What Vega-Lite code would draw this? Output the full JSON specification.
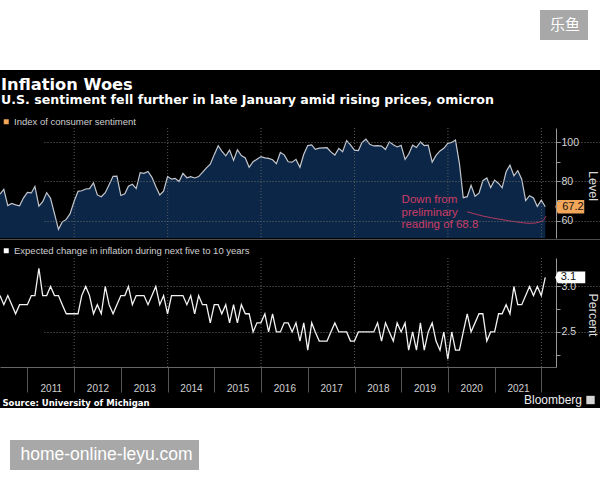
{
  "$schema": "https://vega.github.io/schema/vega-lite/v6.json",
  "width": 600,
  "height": 338,
  "autosize": {"type": "none"},
  "padding": {"top": 70, "bottom": 72, "left": 0, "right": 0},
  "background": "#ffffff",
  "view": {"fill": "#000000", "stroke": null},
  "title": {
    "text": "Inflation Woes",
    "subtitle": "U.S. sentiment fell further in late January amid rising prices, omicron",
    "anchor": "start",
    "frame": "group",
    "offset": -97,
    "dx": 1,
    "font": "DejaVu Sans",
    "fontSize": 16.3,
    "fontWeight": "bold",
    "color": "#ffffff",
    "subtitleFont": "DejaVu Sans",
    "subtitleFontSize": 12.6,
    "subtitleFontWeight": "bold",
    "subtitleColor": "#ffffff",
    "subtitlePadding": 1.5
  },
  "config": {
    "font": "Liberation Sans",
    "legend": {"orient": "none", "padding": 0, "labelLimit": 400, "symbolStrokeWidth": 0, "labelFont": "Liberation Sans"}
  },
  "datasets": {
    "monthly": [
      {"d": "2010-05-31", "s": 73.6, "e": 2.9}, {"d": "2010-06-30", "s": 76.0, "e": 2.8}, {"d": "2010-07-31", "s": 67.8, "e": 2.9}, {"d": "2010-08-31", "s": 68.9, "e": 2.8},
      {"d": "2010-09-30", "s": 68.2, "e": 2.7}, {"d": "2010-10-31", "s": 67.7, "e": 2.8}, {"d": "2010-11-30", "s": 71.6, "e": 2.8}, {"d": "2010-12-31", "s": 74.5, "e": 2.8},
      {"d": "2011-01-31", "s": 74.2, "e": 2.9}, {"d": "2011-02-28", "s": 77.5, "e": 2.9}, {"d": "2011-03-31", "s": 67.5, "e": 3.2}, {"d": "2011-04-30", "s": 69.8, "e": 2.9},
      {"d": "2011-05-31", "s": 74.3, "e": 2.9}, {"d": "2011-06-30", "s": 71.5, "e": 3.0}, {"d": "2011-07-31", "s": 63.7, "e": 2.9}, {"d": "2011-08-31", "s": 55.8, "e": 2.9},
      {"d": "2011-09-30", "s": 59.5, "e": 2.8}, {"d": "2011-10-31", "s": 60.8, "e": 2.7}, {"d": "2011-11-30", "s": 63.7, "e": 2.7}, {"d": "2011-12-31", "s": 69.9, "e": 2.7},
      {"d": "2012-01-31", "s": 75.0, "e": 2.7}, {"d": "2012-02-29", "s": 75.3, "e": 2.9}, {"d": "2012-03-31", "s": 76.2, "e": 3.0}, {"d": "2012-04-30", "s": 76.4, "e": 2.9},
      {"d": "2012-05-31", "s": 79.3, "e": 2.7}, {"d": "2012-06-30", "s": 73.2, "e": 2.8}, {"d": "2012-07-31", "s": 72.3, "e": 2.7}, {"d": "2012-08-31", "s": 74.3, "e": 3.0},
      {"d": "2012-09-30", "s": 78.3, "e": 2.8}, {"d": "2012-10-31", "s": 82.6, "e": 2.7}, {"d": "2012-11-30", "s": 82.7, "e": 2.8}, {"d": "2012-12-31", "s": 72.9, "e": 2.9},
      {"d": "2013-01-31", "s": 73.8, "e": 2.9}, {"d": "2013-02-28", "s": 77.6, "e": 3.0}, {"d": "2013-03-31", "s": 78.6, "e": 2.8}, {"d": "2013-04-30", "s": 76.4, "e": 2.9},
      {"d": "2013-05-31", "s": 84.5, "e": 2.9}, {"d": "2013-06-30", "s": 84.1, "e": 2.9}, {"d": "2013-07-31", "s": 85.1, "e": 2.8}, {"d": "2013-08-31", "s": 82.1, "e": 2.9},
      {"d": "2013-09-30", "s": 77.5, "e": 3.0}, {"d": "2013-10-31", "s": 73.2, "e": 2.8}, {"d": "2013-11-30", "s": 75.1, "e": 2.9}, {"d": "2013-12-31", "s": 82.5, "e": 2.7},
      {"d": "2014-01-31", "s": 81.2, "e": 2.9}, {"d": "2014-02-28", "s": 81.6, "e": 2.9}, {"d": "2014-03-31", "s": 80.0, "e": 2.9}, {"d": "2014-04-30", "s": 84.1, "e": 2.9},
      {"d": "2014-05-31", "s": 81.9, "e": 2.8}, {"d": "2014-06-30", "s": 82.5, "e": 2.9}, {"d": "2014-07-31", "s": 81.8, "e": 2.7}, {"d": "2014-08-31", "s": 82.5, "e": 2.9},
      {"d": "2014-09-30", "s": 84.6, "e": 2.8}, {"d": "2014-10-31", "s": 86.9, "e": 2.8}, {"d": "2014-11-30", "s": 88.8, "e": 2.6}, {"d": "2014-12-31", "s": 93.6, "e": 2.8},
      {"d": "2015-01-31", "s": 98.1, "e": 2.8}, {"d": "2015-02-28", "s": 95.4, "e": 2.7}, {"d": "2015-03-31", "s": 93.0, "e": 2.8}, {"d": "2015-04-30", "s": 95.9, "e": 2.6},
      {"d": "2015-05-31", "s": 90.7, "e": 2.8}, {"d": "2015-06-30", "s": 96.1, "e": 2.6}, {"d": "2015-07-31", "s": 93.1, "e": 2.8}, {"d": "2015-08-31", "s": 91.9, "e": 2.7},
      {"d": "2015-09-30", "s": 87.2, "e": 2.7}, {"d": "2015-10-31", "s": 90.0, "e": 2.5}, {"d": "2015-11-30", "s": 91.3, "e": 2.6}, {"d": "2015-12-31", "s": 92.6, "e": 2.6},
      {"d": "2016-01-31", "s": 92.0, "e": 2.7}, {"d": "2016-02-29", "s": 91.7, "e": 2.5}, {"d": "2016-03-31", "s": 91.0, "e": 2.7}, {"d": "2016-04-30", "s": 89.0, "e": 2.5},
      {"d": "2016-05-31", "s": 94.7, "e": 2.5}, {"d": "2016-06-30", "s": 93.5, "e": 2.6}, {"d": "2016-07-31", "s": 90.0, "e": 2.6}, {"d": "2016-08-31", "s": 89.8, "e": 2.5},
      {"d": "2016-09-30", "s": 91.2, "e": 2.6}, {"d": "2016-10-31", "s": 87.2, "e": 2.4}, {"d": "2016-11-30", "s": 93.8, "e": 2.6}, {"d": "2016-12-31", "s": 98.2, "e": 2.3},
      {"d": "2017-01-31", "s": 98.5, "e": 2.6}, {"d": "2017-02-28", "s": 96.3, "e": 2.5}, {"d": "2017-03-31", "s": 96.9, "e": 2.4}, {"d": "2017-04-30", "s": 97.0, "e": 2.4},
      {"d": "2017-05-31", "s": 97.1, "e": 2.4}, {"d": "2017-06-30", "s": 95.0, "e": 2.5}, {"d": "2017-07-31", "s": 93.4, "e": 2.6}, {"d": "2017-08-31", "s": 96.8, "e": 2.5},
      {"d": "2017-09-30", "s": 95.1, "e": 2.5}, {"d": "2017-10-31", "s": 100.7, "e": 2.5}, {"d": "2017-11-30", "s": 98.5, "e": 2.4}, {"d": "2017-12-31", "s": 95.9, "e": 2.4},
      {"d": "2018-01-31", "s": 95.7, "e": 2.5}, {"d": "2018-02-28", "s": 99.7, "e": 2.5}, {"d": "2018-03-31", "s": 101.4, "e": 2.5}, {"d": "2018-04-30", "s": 98.8, "e": 2.5},
      {"d": "2018-05-31", "s": 98.0, "e": 2.5}, {"d": "2018-06-30", "s": 98.2, "e": 2.6}, {"d": "2018-07-31", "s": 97.9, "e": 2.4}, {"d": "2018-08-31", "s": 96.2, "e": 2.6},
      {"d": "2018-09-30", "s": 100.1, "e": 2.5}, {"d": "2018-10-31", "s": 98.6, "e": 2.4}, {"d": "2018-11-30", "s": 97.5, "e": 2.6}, {"d": "2018-12-31", "s": 98.3, "e": 2.5},
      {"d": "2019-01-31", "s": 91.2, "e": 2.6}, {"d": "2019-02-28", "s": 93.8, "e": 2.3}, {"d": "2019-03-31", "s": 98.4, "e": 2.5}, {"d": "2019-04-30", "s": 97.2, "e": 2.3},
      {"d": "2019-05-31", "s": 100.0, "e": 2.6}, {"d": "2019-06-30", "s": 98.2, "e": 2.3}, {"d": "2019-07-31", "s": 98.4, "e": 2.5}, {"d": "2019-08-31", "s": 89.8, "e": 2.6},
      {"d": "2019-09-30", "s": 93.2, "e": 2.4}, {"d": "2019-10-31", "s": 95.5, "e": 2.3}, {"d": "2019-11-30", "s": 96.8, "e": 2.5}, {"d": "2019-12-31", "s": 99.3, "e": 2.2},
      {"d": "2020-01-31", "s": 99.8, "e": 2.5}, {"d": "2020-02-29", "s": 101.0, "e": 2.3}, {"d": "2020-03-31", "s": 89.1, "e": 2.3}, {"d": "2020-04-30", "s": 71.8, "e": 2.5},
      {"d": "2020-05-31", "s": 72.3, "e": 2.7}, {"d": "2020-06-30", "s": 78.1, "e": 2.5}, {"d": "2020-07-31", "s": 72.5, "e": 2.6}, {"d": "2020-08-31", "s": 74.1, "e": 2.7},
      {"d": "2020-09-30", "s": 80.4, "e": 2.7}, {"d": "2020-10-31", "s": 81.8, "e": 2.4}, {"d": "2020-11-30", "s": 76.9, "e": 2.5}, {"d": "2020-12-31", "s": 80.7, "e": 2.5},
      {"d": "2021-01-31", "s": 79.0, "e": 2.7}, {"d": "2021-02-28", "s": 76.8, "e": 2.7}, {"d": "2021-03-31", "s": 84.9, "e": 2.8}, {"d": "2021-04-30", "s": 88.3, "e": 2.7},
      {"d": "2021-05-31", "s": 82.9, "e": 3.0}, {"d": "2021-06-30", "s": 85.5, "e": 2.8}, {"d": "2021-07-31", "s": 81.2, "e": 2.8}, {"d": "2021-08-31", "s": 70.3, "e": 2.9},
      {"d": "2021-09-30", "s": 72.8, "e": 3.0}, {"d": "2021-10-31", "s": 71.7, "e": 2.9}, {"d": "2021-11-30", "s": 67.4, "e": 3.0}, {"d": "2021-12-31", "s": 70.6, "e": 2.9},
      {"d": "2022-01-31", "s": 67.2, "e": 3.1}
    ],
    "gridYears": [
      {"d": "2012-01-01"}, {"d": "2014-01-01"}, {"d": "2016-01-01"}, {"d": "2018-01-01"}, {"d": "2020-01-01"}, {"d": "2022-01-01"}
    ],
    "curve": [
      {"d": "2020-05-30", "v": 64.7}, {"d": "2020-10-01", "v": 62.5}, {"d": "2021-02-10", "v": 60.9}, {"d": "2021-06-24", "v": 59.5},
      {"d": "2021-10-04", "v": 58.8}, {"d": "2021-12-20", "v": 59.5}, {"d": "2022-01-22", "v": 60.9}, {"d": "2022-02-07", "v": 62.5}
    ],
    "notes": [
      {"d": "2019-01-04", "v": 73.6, "t": "Down from\npreliminary\nreading of 68.8"}
    ]
  },
  "resolve": {
    "scale": {"y": "independent", "color": "independent"},
    "axis": {"y": "independent"}
  },
  "layer": [
    {
      "layer": [
        {
          "data": {"name": "monthly"},
          "mark": {"type": "area", "color": "#0c2647", "opacity": 1},
          "encoding": {
            "x": {"field": "d", "type": "temporal", "scale": {"type": "utc", "domain": [{"year": 2010, "month": 5, "date": 31, "utc": true}, {"year": 2022, "month": 4, "date": 25, "utc": true}], "range": [0, 556]}},
            "y": {
              "field": "s", "type": "quantitative",
              "scale": {"domain": [51.39, 107.09], "range": [168, 58], "nice": false, "zero": false},
              "axis": {
                "orient": "right", "offset": -44, "values": [60, 70, 80, 90, 100],
                "labelExpr": "datum.value % 20 === 0 ? datum.label : ''",
                "grid": true, "gridColor": "#6b6b6b", "gridDash": [1, 2],
                "gridOpacity": {"condition": {"test": "datum.value % 20 === 0", "value": 1}, "value": 0},
                "domainColor": "#9a9a9a", "tickColor": "#9a9a9a", "tickSize": 4,
                "labelColor": "#d9d9d9", "labelFontSize": 10.5, "labelPadding": 1,
                "title": "Level", "titleColor": "#d9d9d9", "titleFontSize": 12.5, "titleFontWeight": "normal",
                "titleAngle": 90, "titleX": 36, "titleY": 115.5, "titleAlign": "center", "titleBaseline": "middle",
                "zindex": 1
              }
            },
            "y2": {"datum": 51.39}
          }
        },
        {
          "data": {"name": "gridYears"},
          "mark": {"type": "rule", "color": "#5c5c5c", "strokeDash": [1, 2], "strokeWidth": 1},
          "encoding": {
            "x": {"field": "d", "type": "temporal", "scale": {"type": "utc", "domain": [{"year": 2010, "month": 5, "date": 31, "utc": true}, {"year": 2022, "month": 4, "date": 25, "utc": true}], "range": [0, 556]}},
            "y": {"datum": 107.09, "scale": {"domain": [51.39, 107.09], "range": [168, 58], "nice": false, "zero": false}},
            "y2": {"datum": 51.39}
          }
        },
        {
          "data": {"name": "monthly"},
          "mark": {"type": "line", "color": "#c3c7cd", "strokeWidth": 1.2},
          "encoding": {
            "x": {"field": "d", "type": "temporal", "scale": {"type": "utc", "domain": [{"year": 2010, "month": 5, "date": 31, "utc": true}, {"year": 2022, "month": 4, "date": 25, "utc": true}], "range": [0, 556]}},
            "y": {"field": "s", "type": "quantitative", "scale": {"domain": [51.39, 107.09], "range": [168, 58], "nice": false, "zero": false}}
          }
        },
        {
          "data": {"name": "curve"},
          "mark": {"type": "line", "color": "#b23a5f", "strokeWidth": 1, "interpolate": "monotone"},
          "encoding": {
            "x": {"field": "d", "type": "temporal", "scale": {"type": "utc", "domain": [{"year": 2010, "month": 5, "date": 31, "utc": true}, {"year": 2022, "month": 4, "date": 25, "utc": true}], "range": [0, 556]}},
            "y": {"field": "v", "type": "quantitative", "scale": {"domain": [51.39, 107.09], "range": [168, 58], "nice": false, "zero": false}}
          }
        },
        {
          "data": {"name": "notes"},
          "mark": {"type": "text", "align": "left", "baseline": "top", "lineBreak": "\n", "lineHeight": 12.6, "fontSize": 11.5, "color": "#cc3d66"},
          "encoding": {
            "x": {"field": "d", "type": "temporal", "scale": {"type": "utc", "domain": [{"year": 2010, "month": 5, "date": 31, "utc": true}, {"year": 2022, "month": 4, "date": 25, "utc": true}], "range": [0, 556]}},
            "y": {"field": "v", "type": "quantitative", "scale": {"domain": [51.39, 107.09], "range": [168, 58], "nice": false, "zero": false}},
            "text": {"field": "t"}
          }
        },
        {
          "data": {"name": "monthly"},
          "transform": [{"filter": "utcyear(toDate(datum.d)) === 2022"}],
          "mark": {"type": "point", "shape": "M1,0L1.25,-0.67H3.9V0.67H1.25Z", "size": 400, "filled": true, "color": "#f2a65a", "opacity": 1, "strokeWidth": 0},
          "encoding": {
            "x": {"field": "d", "type": "temporal", "scale": {"type": "utc", "domain": [{"year": 2010, "month": 5, "date": 31, "utc": true}, {"year": 2022, "month": 4, "date": 25, "utc": true}], "range": [0, 556]}},
            "y": {"field": "s", "type": "quantitative", "scale": {"domain": [51.39, 107.09], "range": [168, 58], "nice": false, "zero": false}}
          }
        },
        {
          "data": {"name": "monthly"},
          "transform": [{"filter": "utcyear(toDate(datum.d)) === 2022"}],
          "mark": {"type": "text", "align": "left", "baseline": "middle", "dx": 17, "fontSize": 11, "color": "#111111"},
          "encoding": {
            "x": {"field": "d", "type": "temporal", "scale": {"type": "utc", "domain": [{"year": 2010, "month": 5, "date": 31, "utc": true}, {"year": 2022, "month": 4, "date": 25, "utc": true}], "range": [0, 556]}},
            "y": {"field": "s", "type": "quantitative", "scale": {"domain": [51.39, 107.09], "range": [168, 58], "nice": false, "zero": false}},
            "text": {"field": "s", "type": "quantitative", "format": ".1f"}
          }
        },
        {
          "data": {"values": [{}]},
          "mark": {"type": "rule", "color": "#4d4d4d", "strokeWidth": 1},
          "encoding": {
            "y": {"datum": 50.63, "scale": {"domain": [51.39, 107.09], "range": [168, 58], "nice": false, "zero": false}}
          }
        }
      ]
    },
    {
      "layer": [
        {
          "data": {"name": "gridYears"},
          "mark": {"type": "rule", "color": "#5c5c5c", "strokeDash": [1, 2], "strokeWidth": 1},
          "encoding": {
            "x": {"field": "d", "type": "temporal", "scale": {"type": "utc", "domain": [{"year": 2010, "month": 5, "date": 31, "utc": true}, {"year": 2022, "month": 4, "date": 25, "utc": true}], "range": [0, 556]}},
            "y": {"datum": 3.313, "scale": {"domain": [2.115, 3.313], "range": [297, 188], "nice": false, "zero": false}},
            "y2": {"datum": 2.115}
          }
        },
        {
          "data": {"name": "monthly"},
          "mark": {"type": "line", "color": "#f2f2f2", "strokeWidth": 1.3},
          "encoding": {
            "x": {
              "field": "d", "type": "temporal",
              "scale": {"type": "utc", "domain": [{"year": 2010, "month": 5, "date": 31, "utc": true}, {"year": 2022, "month": 4, "date": 25, "utc": true}], "range": [0, 556]},
              "axis": {
                "orient": "bottom", "offset": -41,
                "values": [
                  {"year": 2011, "month": 1, "date": 1, "utc": true}, {"year": 2012, "month": 1, "date": 1, "utc": true},
                  {"year": 2013, "month": 1, "date": 1, "utc": true}, {"year": 2014, "month": 1, "date": 1, "utc": true},
                  {"year": 2015, "month": 1, "date": 1, "utc": true}, {"year": 2016, "month": 1, "date": 1, "utc": true},
                  {"year": 2017, "month": 1, "date": 1, "utc": true}, {"year": 2018, "month": 1, "date": 1, "utc": true},
                  {"year": 2019, "month": 1, "date": 1, "utc": true}, {"year": 2020, "month": 1, "date": 1, "utc": true},
                  {"year": 2021, "month": 1, "date": 1, "utc": true}, {"year": 2022, "month": 1, "date": 1, "utc": true}
                ],
                "labelExpr": "utcyear(datum.value) < 2022 ? utcFormat(datum.value, '%Y') : ''",
                "labelOffset": 23.3, "labelPadding": -9, "labelColor": "#d0d0d0", "labelFontSize": 10,
                "labelOverlap": false, "labelFlush": false, "labelBound": false,
                "tickSize": 25, "tickColor": "#555555", "domainColor": "#666666", "grid": false,
                "title": "Source: University of Michigan", "titleAnchor": "start", "titleAlign": "left",
                "titleX": 2, "titleY": 38, "titleBaseline": "alphabetic",
                "titleFont": "DejaVu Sans", "titleFontSize": 8.5, "titleFontWeight": "bold", "titleColor": "#ffffff"
              }
            },
            "y": {
              "field": "e", "type": "quantitative",
              "scale": {"domain": [2.115, 3.313], "range": [297, 188], "nice": false, "zero": false},
              "axis": {
                "orient": "right", "offset": -44, "values": [2.25, 2.5, 2.75, 3],
                "labelExpr": "datum.value % 0.5 === 0 ? format(datum.value, '.1f') : ''",
                "grid": true, "gridColor": "#6b6b6b", "gridDash": [1, 2],
                "gridOpacity": {"condition": {"test": "datum.value % 0.5 === 0", "value": 1}, "value": 0},
                "domainColor": "#9a9a9a", "tickColor": "#9a9a9a", "tickSize": 4,
                "labelColor": "#d9d9d9", "labelFontSize": 10.5, "labelPadding": 1,
                "title": "Percent", "titleColor": "#d9d9d9", "titleFontSize": 12.5, "titleFontWeight": "normal",
                "titleAngle": 90, "titleX": 36, "titleY": 244.5, "titleAlign": "center", "titleBaseline": "middle",
                "zindex": 0
              }
            }
          }
        },
        {
          "data": {"name": "monthly"},
          "transform": [{"filter": "utcyear(toDate(datum.d)) === 2022"}],
          "mark": {"type": "point", "shape": "M1,0L1.25,-0.58H4V0.58H1.25Z", "size": 400, "filled": true, "color": "#ffffff", "opacity": 1, "strokeWidth": 0},
          "encoding": {
            "x": {"field": "d", "type": "temporal", "scale": {"type": "utc", "domain": [{"year": 2010, "month": 5, "date": 31, "utc": true}, {"year": 2022, "month": 4, "date": 25, "utc": true}], "range": [0, 556]}},
            "y": {"field": "e", "type": "quantitative", "scale": {"domain": [2.115, 3.313], "range": [297, 188], "nice": false, "zero": false}}
          }
        },
        {
          "data": {"name": "monthly"},
          "transform": [{"filter": "utcyear(toDate(datum.d)) === 2022"}],
          "mark": {"type": "text", "align": "left", "baseline": "middle", "dx": 15.5, "fontSize": 11, "color": "#111111"},
          "encoding": {
            "x": {"field": "d", "type": "temporal", "scale": {"type": "utc", "domain": [{"year": 2010, "month": 5, "date": 31, "utc": true}, {"year": 2022, "month": 4, "date": 25, "utc": true}], "range": [0, 556]}},
            "y": {"field": "e", "type": "quantitative", "scale": {"domain": [2.115, 3.313], "range": [297, 188], "nice": false, "zero": false}},
            "text": {"field": "e", "type": "quantitative", "format": ".1f"}
          }
        }
      ]
    },
    {
      "data": {"values": []},
      "mark": {"type": "square", "opacity": 1},
      "encoding": {
        "color": {
          "datum": "Index of consumer sentiment",
          "scale": {"range": ["#f2a65a"]},
          "legend": {"title": null, "legendX": 1.5, "legendY": 47, "symbolType": "square", "symbolSize": 25, "labelColor": "#cfcfcf", "labelFontSize": 9.5, "labelOffset": 3}
        }
      }
    },
    {
      "data": {"values": []},
      "mark": {"type": "square", "opacity": 1},
      "encoding": {
        "color": {
          "datum": "Expected change in inflation during next five to 10 years",
          "scale": {"range": ["#ffffff"]},
          "legend": {"title": null, "legendX": 1.5, "legendY": 176, "symbolType": "square", "symbolSize": 25, "labelColor": "#cfcfcf", "labelFontSize": 9.5, "labelOffset": 3}
        }
      }
    },
    {
      "data": {"values": []},
      "mark": {"type": "square", "opacity": 1},
      "encoding": {
        "color": {
          "datum": "Bloomberg",
          "scale": {"range": ["#d6d6d6"]},
          "legend": {"title": null, "legendX": 584.5, "legendY": 324, "symbolType": "square", "symbolSize": 70, "labelAlign": "right", "labelOffset": -14.5, "labelColor": "#eeeeee", "labelFontSize": 12}
        }
      }
    },
    {
      "data": {"values": []},
      "mark": {"type": "square", "opacity": 1},
      "encoding": {
        "color": {
          "datum": "home-online-leyu.com",
          "scale": {"range": ["#ffffff"]},
          "legend": {"title": null, "legendX": 10, "legendY": 370, "fillColor": "#a8a8a8", "padding": 6, "symbolSize": 4, "symbolOpacity": 0, "labelOffset": -13, "labelColor": "#ffffff", "labelFontSize": 17.5}
        }
      }
    },
    {
      "data": {"values": []},
      "mark": {"type": "square", "opacity": 1},
      "encoding": {
        "color": {
          "datum": "乐鱼",
          "scale": {"range": ["#ffffff"]},
          "legend": {"title": null, "legendX": 540, "legendY": -60, "fillColor": "#a8a8a8", "padding": 7, "symbolSize": 4, "symbolOpacity": 0, "labelOffset": -12, "labelColor": "#ffffff", "labelFont": "Noto Sans CJK SC", "labelFontSize": 15}
        }
      }
    }
  ]
}
